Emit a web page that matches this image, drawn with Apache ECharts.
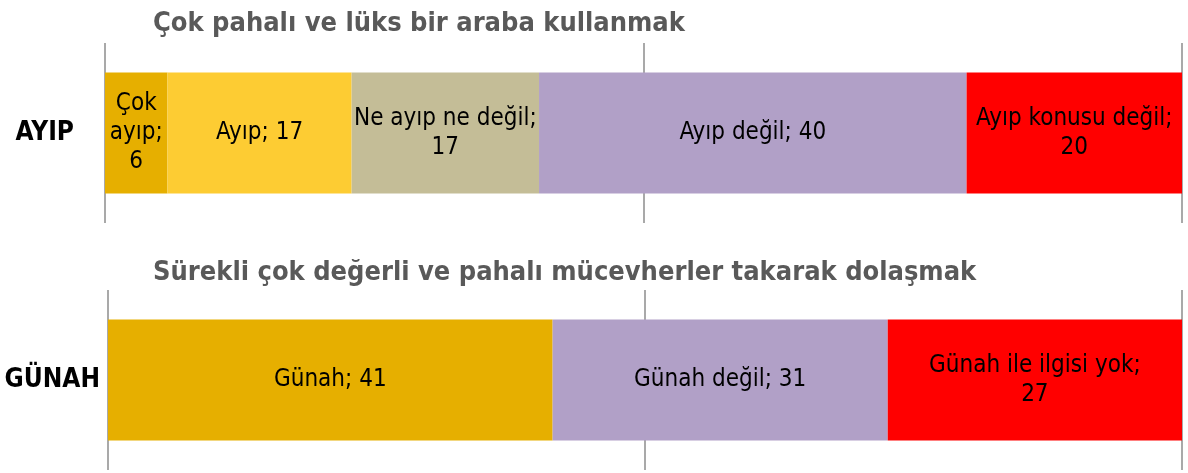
<!DOCTYPE html>
<html><head><meta charset="utf-8">
<script src="https://cdn.jsdelivr.net/npm/echarts@6/dist/echarts.min.js"></script>
<style>html,body{margin:0;padding:0;background:#fff}#c{width:1188px;height:473px}</style>
</head><body><div id="c"></div>
<script>
const titles = ['Çok pahalı ve lüks bir araba kullanmak', 'Sürekli çok değerli ve pahalı mücevherler takarak dolaşmak'];
const categoriesTop = ['AYIP'];
const categoriesBottom = ['GÜNAH'];
const seriesNamesTop = ['Çok ayıp', 'Ayıp', 'Ne ayıp ne değil', 'Ayıp değil', 'Ayıp konusu değil'];
const valuesTop = [5.8, 17.1, 17.4, 39.7, 20.0];
const seriesNamesBottom = ['Günah', 'Günah değil', 'Günah ile ilgisi yok'];
const valuesBottom = [41.4, 31.2, 27.4];
const colorsTop = ['#E6AF00', '#FDCC33', '#C4BD97', '#B1A0C7', '#FF0000'];
const colorsBottom = ['#E6AF00', '#B1A0C7', '#FF0000'];

const FONT = "'DejaVu Sans Condensed', 'Liberation Sans Narrow', sans-serif";
const LABEL_SIZE = 24;
const grids = [
  {left: 105, right: 6, top: 43, height: 180},
  {left: 108, right: 6, top: 290, height: 180}
];
const plotW = [1188 - 105 - 6, 1188 - 108 - 6];

const ctx = document.createElement('canvas').getContext('2d');
ctx.font = LABEL_SIZE + 'px ' + FONT;
function wrap(text, maxW) {
  const words = text.split(' ');
  const lines = [];
  let cur = '';
  for (const w of words) {
    const t = cur ? cur + ' ' + w : w;
    if (cur && ctx.measureText(t).width > maxW) { lines.push(cur); cur = w; }
    else cur = t;
  }
  if (cur) lines.push(cur);
  return lines.join('\n');
}

function mk(names, vals, colors, gi) {
  return names.map((n, i) => {
    const maxW = Math.min(vals[i] / 100 * plotW[gi] + 8, 215);
    return {
      name: n, type: 'bar', stack: 's' + gi, xAxisIndex: gi, yAxisIndex: gi,
      barWidth: 121,
      itemStyle: {color: colors[i]},
      label: {
        show: true, position: 'inside', color: '#000', fontFamily: FONT, fontSize: LABEL_SIZE, lineHeight: 29,
        formatter: p => wrap(p.seriesName + '; ' + Math.round(p.value), maxW)
      },
      data: [vals[i]]
    };
  });
}

const chart = echarts.init(document.getElementById('c'));
chart.setOption({
  animation: false,
  title: [
    {text: titles[0], left: 148, top: 5, textStyle: {fontFamily: FONT, fontWeight: 'bold', fontSize: 27, color: '#595959'}},
    {text: titles[1], left: 148, top: 254, textStyle: {fontFamily: FONT, fontWeight: 'bold', fontSize: 27, color: '#595959'}}
  ],
  grid: grids,
  xAxis: [0, 1].map(i => ({
    type: 'value', gridIndex: i, min: 0, max: 100, interval: 50,
    axisLabel: {show: false}, axisLine: {show: false}, axisTick: {show: false},
    splitLine: {show: true, lineStyle: {color: '#8c8c8c', width: 1.5}}
  })),
  yAxis: [
    {type: 'category', gridIndex: 0, data: categoriesTop, axisLine: {show: false}, axisTick: {show: false},
     axisLabel: {margin: 31, color: '#000', fontFamily: FONT, fontWeight: 'bold', fontSize: 26}},
    {type: 'category', gridIndex: 1, data: categoriesBottom, axisLine: {show: false}, axisTick: {show: false},
     axisLabel: {margin: 8, color: '#000', fontFamily: FONT, fontWeight: 'bold', fontSize: 26}}
  ],
  series: mk(seriesNamesTop, valuesTop, colorsTop, 0).concat(mk(seriesNamesBottom, valuesBottom, colorsBottom, 1))
});
</script></body></html>
